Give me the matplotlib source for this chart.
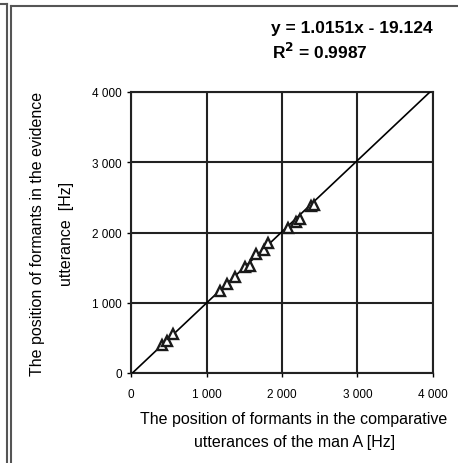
import numpy as np
import matplotlib.pyplot as plt
from matplotlib.lines import Line2D

# formant positions [Hz]
comparative = [406, 472, 560, 1177, 1266, 1376, 1508, 1574, 1662, 1759, 1816,
               2081, 2192, 2235, 2390, 2420]
evidence = [398, 459, 555, 1171, 1266, 1361, 1504, 1526, 1693, 1750, 1849,
            2063, 2144, 2190, 2380, 2395]
slope = 1.0151
intercept = -19.124
r2 = 0.9987
ticks = [0, 1000, 2000, 3000, 4000]
tick_labels = ['0', '1 000', '2 000', '3 000', '4 000']

plt.rcParams['font.family'] = ['Liberation Sans', 'DejaVu Sans']

fig = plt.figure(figsize=(4.58, 4.64), dpi=100)
ax = fig.add_axes([131 / 458, 1 - 374 / 464, 302 / 458, 281 / 464])

# trend line
xl = np.array([0, 4000])
ax.plot(xl, slope * xl + intercept, color='black', lw=1.2, zorder=3)

# data points
ax.plot(comparative, evidence, linestyle='none', marker='^', markersize=7,
        markerfacecolor='white', markeredgecolor='#1a1a1a', markeredgewidth=1.7,
        zorder=4)

ax.set_xlim(0, 4000)
ax.set_ylim(0, 4000)
ax.set_xticks(ticks)
ax.set_xticklabels(tick_labels)
ax.set_yticks(ticks)
ax.set_yticklabels(tick_labels)
ax.tick_params(labelsize=8.5, length=3, width=1, color='black')
ax.tick_params(axis='x', pad=8)
ax.grid(color='#222222', lw=1.5)
for s in ax.spines.values():
    s.set_linewidth(1.5)
    s.set_color('#222222')

ax.set_xlabel('The position of formants in the comparative\nutterances of the man A [Hz]',
              fontsize=11.5, labelpad=8, linespacing=1.6, x=0.54)
ax.set_ylabel('The position of formants in the evidence\nutterance  [Hz]',
              fontsize=11.5, labelpad=13, linespacing=2.2)

fig.text(433 / 458, 1 - 28 / 464, 'y = 1.0151x - 19.124', fontsize=12.5,
         fontweight='bold', ha='right', va='center')
fig.text(272 / 458, 1 - 52 / 464, r'R$^\mathbf{2}$ = ' + str(r2), fontsize=12.5,
         fontweight='bold', ha='left', va='center')

# page frame lines
W, H = 458, 464
for xs, ys in [([0, 7], [5, 5]), ([7, 7], [5, 464]), ([11, 11], [7, 464]), ([11, 458], [7, 7])]:
    fig.add_artist(Line2D([x / W for x in xs], [1 - y / H for y in ys],
                          color='#555555', lw=1.5))

fig.savefig('out.png', dpi=100)
